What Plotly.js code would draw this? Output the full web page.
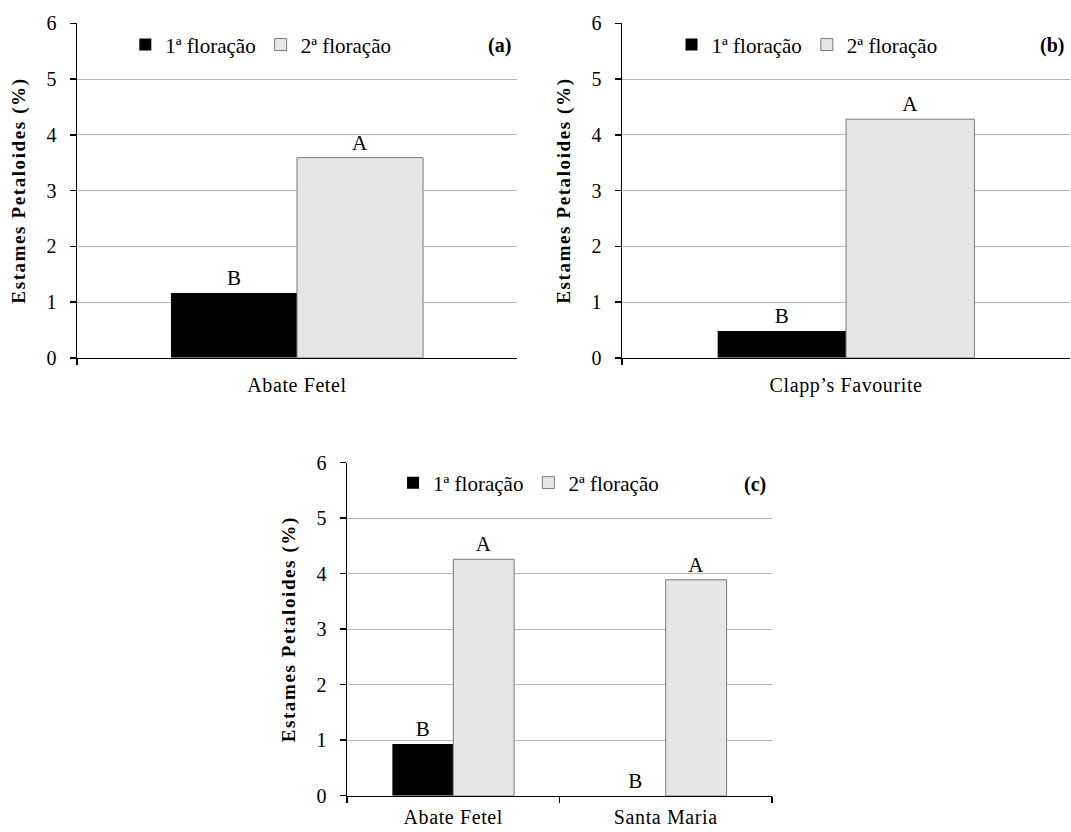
<!DOCTYPE html>
<html>
<head>
<meta charset="utf-8">
<script src="https://cdn.plot.ly/plotly-3.0.1.min.js"></script>
<style>
html,body{margin:0;padding:0;background:#fff;}
#chart .xtick text, #chart .x2tick text, #chart .x3tick text { letter-spacing: 0.6px; }
#chart text.ytitle, #chart text.y2title, #chart text.y3title { letter-spacing: 1.6px; }
</style>
</head>
<body>
<div id="chart" style="width:1071px;height:832px;"></div>
<script>
// ---- data ----
const seriesNames = ["1ª floração", "2ª floração"];

const categoriesA = ["Abate Fetel"];
const floracao1A = [1.16];
const floracao2A = [3.59];
const letters1A = ["B"];
const letters2A = ["A"];

const categoriesB = ["Clapp’s Favourite"];
const floracao1B = [0.48];
const floracao2B = [4.28];
const letters1B = ["B"];
const letters2B = ["A"];

const categoriesC = ["Abate Fetel", "Santa Maria"];
const floracao1C = [0.93, 0];
const floracao2C = [4.26, 3.89];
const letters1C = ["B", "B"];
const letters2C = ["A", "A"];

const panelLabels = ["(a)", "(b)", "(c)"];
const yTitle = "Estames Petaloides (%)";
const yTicks = [0, 1, 2, 3, 4, 5, 6];

// ---- styles ----
const FONT = "Liberation Serif";
const black = "#000000";
const grayFill = "#e7e5e7";
const grayLine = "#7a7a7a";

function mkTraces(cats, v1, v2, l1, l2, xa, ya, lg) {
  const common = {
    type: "bar", xaxis: xa, yaxis: ya, legend: lg,
    textposition: "outside", cliponaxis: false,
    textfont: {family: FONT, size: 21, color: black},
    outsidetextfont: {family: FONT, size: 21, color: black},
    hoverinfo: "skip"
  };
  return [
    Object.assign({}, common, {name: seriesNames[0], x: cats, y: v1, text: l1,
      marker: {color: black, line: {color: black, width: 0}}}),
    Object.assign({}, common, {name: seriesNames[1], x: cats, y: v2, text: l2,
      marker: {color: grayFill, line: {color: grayLine, width: 1}}})
  ];
}

const data = [].concat(
  mkTraces(categoriesA, floracao1A, floracao2A, letters1A, letters2A, "x", "y", "legend"),
  mkTraces(categoriesB, floracao1B, floracao2B, letters1B, letters2B, "x2", "y2", "legend2"),
  mkTraces(categoriesC, floracao1C, floracao2C, letters1C, letters2C, "x3", "y3", "legend3")
);

function xAxis(domain, anchor, standoff) {
  return {
    domain: domain, anchor: anchor, type: "category",
    showline: true, linecolor: black, linewidth: 1.5,
    ticks: "outside", tickson: "boundaries", ticklen: 6, tickcolor: black, tickwidth: 1.5,
    showgrid: false, zeroline: false,
    tickfont: {family: FONT, size: 20, color: black},
    ticklabelstandoff: standoff,
    fixedrange: true
  };
}
function yAxis(domain, anchor) {
  return {
    domain: domain, anchor: anchor, range: [0, 6], tickvals: yTicks,
    showline: true, linecolor: black, linewidth: 1.5,
    ticks: "outside", ticklen: 6, tickcolor: black, tickwidth: 1.5,
    showgrid: true, gridcolor: "#b4b4b4", gridwidth: 1, zeroline: false,
    tickfont: {family: FONT, size: 20, color: black},
    ticklabelstandoff: 9,
    title: {text: yTitle, font: {family: FONT, size: 19, color: black, weight: "bold"}, standoff: 16},
    fixedrange: true
  };
}
function legendAt(x, y) {
  return {
    x: x, y: y, xanchor: "left", yanchor: "middle", orientation: "h",
    font: {family: FONT, size: 21, color: black}, bgcolor: "rgba(0,0,0,0)",
    itemwidth: 30, tracegroupgap: 0, itemclick: false, itemdoubleclick: false
  };
}
function panelLabel(text, xref, yref) {
  return {text: "<b>" + text + "</b>", xref: xref, yref: yref, x: 1, y: 0.935,
    xanchor: "right", yanchor: "middle", xshift: -4, showarrow: false,
    font: {family: FONT, size: 20, color: black}};
}

const layout = {
  width: 1071, height: 832,
  margin: {l: 0, r: 0, t: 0, b: 0},
  paper_bgcolor: "#ffffff", plot_bgcolor: "#ffffff",
  barmode: "group", bargap: 0.427, bargroupgap: 0,
  showlegend: true,
  font: {family: FONT, size: 20, color: black},
  xaxis: xAxis([0.0719, 0.4827], "y", 9),
  yaxis: yAxis([0.570, 0.972], "x"),
  xaxis2: xAxis([0.5808, 0.9991], "y2", 9),
  yaxis2: yAxis([0.570, 0.972], "x2"),
  xaxis3: xAxis([0.3240, 0.7208], "y3", 3),
  yaxis3: yAxis([0.0436, 0.4439], "x3"),
  legend: legendAt(0.117, 0.946),
  legend2: legendAt(0.627, 0.946),
  legend3: legendAt(0.367, 0.4195),
  annotations: [
    panelLabel(panelLabels[0], "x domain", "y domain"),
    panelLabel(panelLabels[1], "x2 domain", "y2 domain"),
    panelLabel(panelLabels[2], "x3 domain", "y3 domain")
  ]
};

Plotly.newPlot("chart", data, layout, {displayModeBar: false, staticPlot: true});
</script>
</body>
</html>
